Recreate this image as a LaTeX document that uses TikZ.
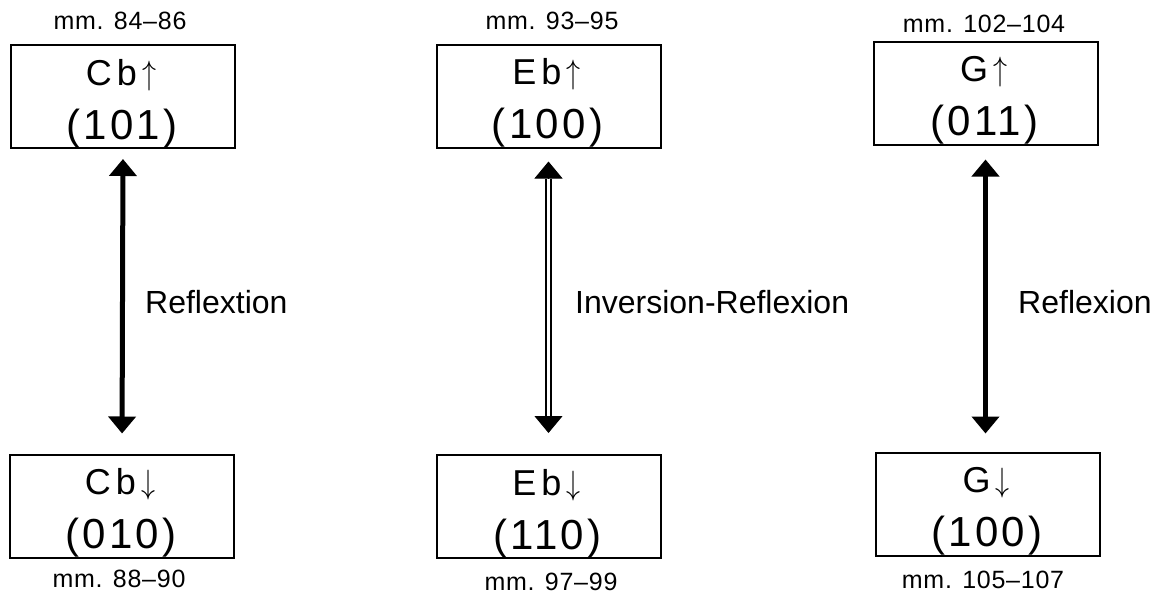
\documentclass[tikz,border=0pt]{standalone}
\usepackage{fontspec}
\setmainfont{Liberation Sans}
\newfontfamily\topfont[LetterSpace=14]{Liberation Sans}
\newfontfamily\botfont[LetterSpace=8]{Liberation Sans}
\newfontfamily\mmfont[LetterSpace=3]{Liberation Sans}
\usetikzlibrary{arrows.meta}
\newcommand\upar{\hspace{5pt}\raisebox{-6pt}{\resizebox{14pt}{30pt}{\raisebox{\depth}{$\uparrow$}}}}
\newcommand\dnar{\hspace{5pt}\raisebox{-6pt}{\resizebox{14pt}{30pt}{\raisebox{\depth}{$\downarrow$}}}}
\newcommand\statebox[5]{%
  \node[box] (#1) at (#2,#3) {};
  \node[topline] (#1-t) at ([yshift=-41pt]#1.north) {#4};
  \node[botline] (#1-b) at ([yshift=10pt]#1.south) {#5};}
\begin{document}
\begin{tikzpicture}[x=1pt,y=-1pt,
  box/.style={draw, line width=2pt, minimum width=224pt, minimum height=103pt, inner sep=0pt},
  topline/.style={anchor=base, inner sep=0pt, xshift=-2pt, font=\topfont\fontsize{36}{40}\selectfont},
  botline/.style={anchor=base, inner sep=0pt, xshift=-1pt, font=\botfont\fontsize{42}{50}\selectfont},
  mmtext/.style={anchor=base, inner sep=0pt, font=\mmfont\fontsize{25}{30}\selectfont},
  lab/.style={anchor=base west, inner sep=0pt, font=\fontsize{32}{38}\selectfont},
  head/.style={line width=1pt, -{Triangle[length=17pt,width=28pt]}},
  biarrow/.style={line width=5pt, {Triangle[length=17pt,width=27pt]}-{Triangle[length=17pt,width=27pt]}},
  dblline/.style={double, draw=black, double=white, line width=2pt, double distance=2.5pt}
]
\useasboundingbox (0,0) rectangle (1160,597);

\statebox{Cbu}{123}{96.5}{Cb\upar}{(101)}
\statebox{Cbd}{122}{506}{Cb\dnar}{(010)}
\statebox{Ebu}{548.5}{96}{Eb\upar}{(100)}
\statebox{Ebd}{548.5}{506.5}{Eb\dnar}{(110)}
\statebox{Gu}{985.5}{93}{G\upar}{(011)}
\statebox{Gd}{988}{504}{G\dnar}{(100)}

\node[mmtext] (mCbu) at (120,30) {mm. 84–86};
\node[mmtext] (mCbd) at (119,587) {mm. 88–90};
\node[mmtext] (mEbu) at (552,30) {mm. 93–95};
\node[mmtext] (mEbd) at (551,590) {mm. 97–99};
\node[mmtext] (mGu) at (984,32) {mm. 102–104};
\node[mmtext] (mGd) at (983,588) {mm. 105–107};

% Cb arrow
\draw[biarrow, shorten <=10pt, shorten >=20pt] (Cbu.south) -- (Cbd.north);
% G arrow
\draw[biarrow, shorten <=14pt, shorten >=18pt] (Gu.south) -- (Gu.south |- Gd.north);
% Eb double arrow
\draw[dblline] ([yshift=-30pt]Ebu.south) -- ([yshift=38pt]Ebd.north);
\draw[head] ([yshift=-30pt]Ebu.south) -- ([yshift=-13pt]Ebu.south);
\draw[head] ([yshift=38pt]Ebd.north) -- ([yshift=21pt]Ebd.north);

\node[lab] (l1) at (145,313) {Reflextion};
\node[lab] (l2) at (575,313) {Inversion-Reflexion};
\node[lab] (l3) at (1018,313) {Reflexion};
\end{tikzpicture}
\end{document}
